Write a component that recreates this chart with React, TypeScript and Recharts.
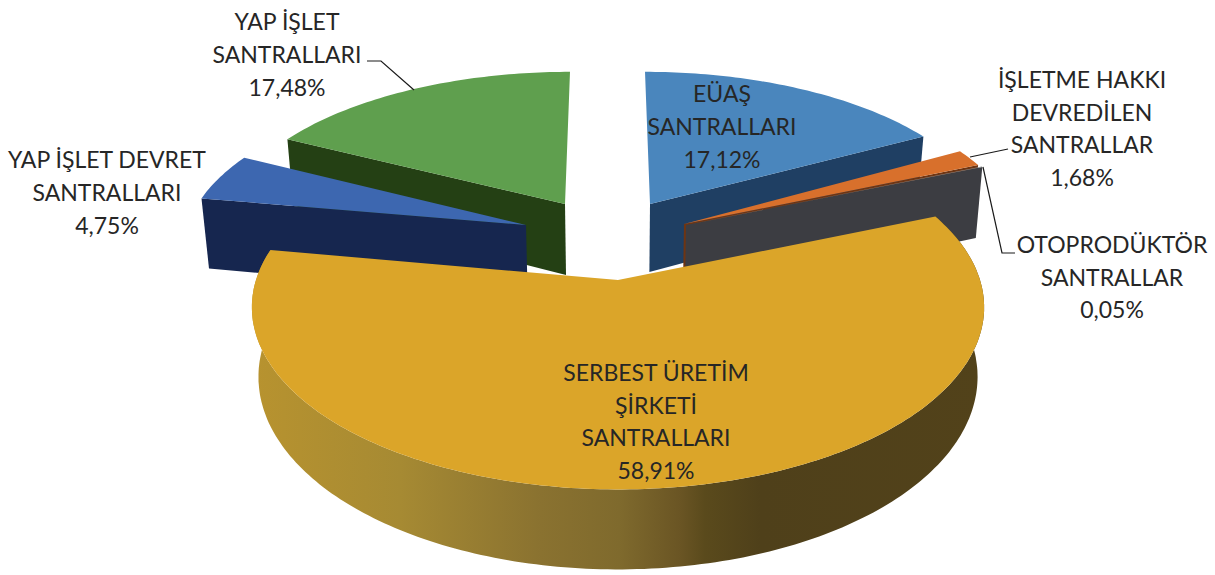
import React from "react";
import { PieChart, Pie } from "recharts";

const names = ["EÜAŞ", "İŞLETME", "OTO", "SERBEST", "DEVRET", "YAP"];
const values = [17.12, 1.68, 0.05, 58.91, 4.75, 17.48];
const data = names.map((name, i) => ({ name, value: values[i] }));

const labelLines: Record<string, string[]> = {
  "EÜAŞ": ["EÜAŞ", "SANTRALLARI", "17,12%"],
  "İŞLETME": ["İŞLETME HAKKI", "DEVREDİLEN", "SANTRALLAR", "1,68%"],
  "OTO": ["OTOPRODÜKTÖR", "SANTRALLAR", "0,05%"],
  "SERBEST": ["SERBEST ÜRETİM", "ŞİRKETİ", "SANTRALLARI", "58,91%"],
  "DEVRET": ["YAP İŞLET DEVRET", "SANTRALLARI", "4,75%"],
  "YAP": ["YAP İŞLET", "SANTRALLARI", "17,48%"],
};

// placement and look of each exploded slice (perspective projection of the disc)
const geometry: Record<string, any> = {
  "EÜAŞ": { ax: 650, ay: 204, R: 336, S: 152, p: 0.15, D: 68, k: -0.038, top: "#4a86bd", wall: "#1f3f63" },
  "İŞLETME": { ax: 684, ay: 224, R: 336, S: 164, p: 0.15, D: 73, k: 0, top: "#d8702c", wall: "#6e3513" },
  "OTO": { ax: 686, ay: 225, R: 338, S: 163, p: 0.15, D: 75, k: 0, top: "#8a8a8a", wall: "#3c3d42" },
  "SERBEST": { ax: 618, ay: 280, R: 362, S: 178, p: 0.15, D: 68, k: 0, top: "#dba529", wall: "url(#yellowWall)" },
  "DEVRET": { ax: 526, ay: 225, R: 338, S: 158, p: 0.15, D: 72, k: 0, top: "#3d67b0", wall: "#16264f" },
  "YAP": { ax: 565, ay: 204, R: 336, S: 152, p: 0.15, D: 71, k: 0.038, top: "#5f9f4e", wall: "#244014" },
};

const labelCenters: Record<string, { x: number; y: number; gap: number }> = {
  "EÜAŞ": { x: 722, y: 93, gap: 33 },
  "İŞLETME": { x: 1082, y: 79, gap: 32.5 },
  "OTO": { x: 1112, y: 244, gap: 32.5 },
  "SERBEST": { x: 656, y: 372, gap: 32.7 },
  "DEVRET": { x: 107, y: 159, gap: 33 },
  "YAP": { x: 287, y: 21, gap: 33 },
};

const leaders: Record<string, string> = {
  "İŞLETME": "M970 157 L1008 149",
  "OTO": "M983 167 L1002 253 L1015 253",
  "YAP": "M367 61 L381 61 L414 90",
};

const layers = [
  ["EÜAŞ", "İŞLETME", "OTO", "YAP"],
  ["DEVRET"],
  ["SERBEST"],
];

const CENTER_X = 618;
const TAPER = 0.018;

function project(g: any, deg: number) {
  const t = (deg * Math.PI) / 180;
  const u = Math.sin(t);
  const v = Math.cos(t);
  const w = 1 + g.p * v;
  const dy = (g.S * v) / w;
  const x = g.ax + (g.R * u) / w + g.k * dy;
  const y = g.ay - dy;
  return { x, y, d: g.D / w };
}

function drop(pt: { x: number; y: number; d: number }) {
  return { x: pt.x + (CENTER_X - pt.x) * TAPER, y: pt.y + pt.d };
}

const toPath = (pts: { x: number; y: number }[]) =>
  pts.map((q, i) => `${i ? "L" : "M"}${q.x.toFixed(1)} ${q.y.toFixed(1)}`).join(" ") + " Z";

function radialFace(g: any, deg: number) {
  const apex = { x: g.ax, y: g.ay, d: g.D };
  const rim = project(g, deg);
  return toPath([apex, rim, drop(rim), drop(apex)]);
}

function makeShape(layer: string[]) {
  return function SliceShape(props: any) {
    const name = props.name ?? props.payload?.name;
    if (!layer.includes(name)) return <g />;
    const g = geometry[name];
    const a0 = 90 - props.startAngle;
    const a1 = 90 - props.endAngle;
    const rim: { x: number; y: number; d: number }[] = [];
    const steps = Math.max(2, Math.ceil(a1 - a0));
    for (let i = 0; i <= steps; i++) rim.push(project(g, a0 + ((a1 - a0) * i) / steps));
    const topFace = toPath([{ x: g.ax, y: g.ay }, ...rim]);
    const hasFrontArc = a0 < 180 && a1 > 180;
    return (
      <g>
        <defs>
          <linearGradient id="yellowWall" gradientUnits="userSpaceOnUse" x1="250" y1="0" x2="985" y2="0">
            <stop offset="0" stopColor="#b8932f" />
            <stop offset="0.204" stopColor="#a68a33" />
            <stop offset="0.395" stopColor="#8a7230" />
            <stop offset="0.503" stopColor="#7f6a2d" />
            <stop offset="0.585" stopColor="#6a5524" />
            <stop offset="0.619" stopColor="#5a4a1c" />
            <stop offset="0.694" stopColor="#4f401a" />
            <stop offset="1" stopColor="#52421a" />
          </linearGradient>
        </defs>
        {hasFrontArc && <path d={toPath([...rim, ...rim.map(drop).reverse()])} fill={g.wall} />}
        {a0 > 180 && <path d={radialFace(g, a0)} fill={g.wall} />}
        {a1 < 180 && <path d={radialFace(g, a1)} fill={g.wall} />}
        <path d={topFace} fill={g.top} />
      </g>
    );
  };
}

function renderLabel(props: any) {
  const name = props.name ?? props.payload?.name;
  const c = labelCenters[name];
  const lines = labelLines[name];
  return (
    <g key={name}>
      {leaders[name] && <path d={leaders[name]} fill="none" stroke="#1a1a1a" strokeWidth={1.2} />}
      {lines.map((line, i) => (
        <text
          key={i}
          x={c.x}
          y={c.y + i * c.gap}
          textAnchor="middle"
          dominantBaseline="central"
          fontFamily="Lato, sans-serif"
          fontSize={23}
          fill="#262626"
        >
          {line}
        </text>
      ))}
    </g>
  );
}

export default function App() {
  return (
    <div style={{ position: "absolute", left: 0, top: 0, width: 1215, height: 575, background: "#fff" }}>
      <PieChart width={1215} height={575} margin={{ top: 0, right: 0, bottom: 0, left: 0 }}>
        {layers.map((layer, i) => (
          <Pie
            key={i}
            data={data}
            dataKey="value"
            nameKey="name"
            cx={618}
            cy={280}
            outerRadius={300}
            startAngle={90}
            endAngle={-270}
            stroke="none"
            isAnimationActive={false}
            shape={makeShape(layer)}
            label={i === layers.length - 1 ? renderLabel : false}
            labelLine={false}
          />
        ))}
      </PieChart>
    </div>
  );
}
